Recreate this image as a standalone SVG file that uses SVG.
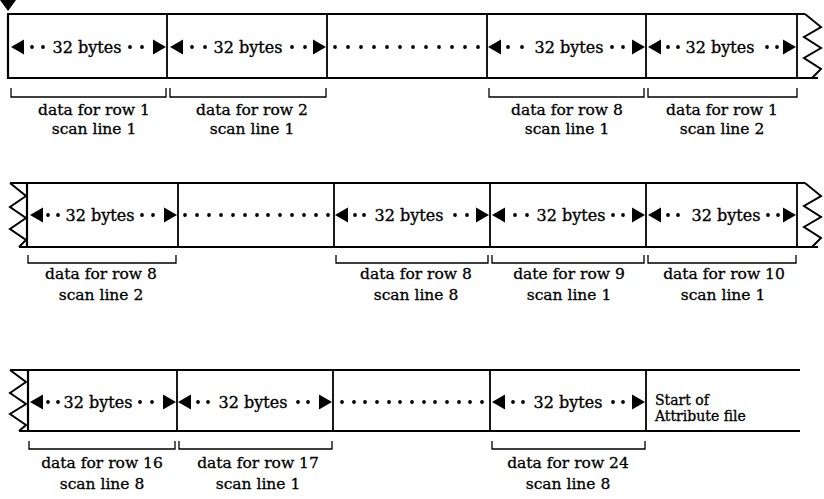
<svg xmlns="http://www.w3.org/2000/svg" xmlns:xlink="http://www.w3.org/1999/xlink" width="824" height="499" viewBox="0 0 824 499">
<defs>
<style>
.box{fill:none;stroke:#000;stroke-width:2.2}
.div{fill:none;stroke:#000;stroke-width:1.8}
.zz{fill:none;stroke:#000;stroke-width:2;stroke-linejoin:miter}
.br{fill:none;stroke:#000;stroke-width:1.3}
.t{font-family:"DejaVu Serif","Liberation Serif",serif;font-size:16px;fill:#000;stroke:#000;stroke-width:0.35}
.lb{font-family:"DejaVu Serif","Liberation Serif",serif;font-size:15.5px;fill:#000;stroke:#000;stroke-width:0.3;text-anchor:middle}
.m{text-anchor:middle}
.st{font-family:"DejaVu Serif","Liberation Serif",serif;font-size:14px;fill:#000;stroke:#000;stroke-width:0.3}
</style>
<circle id="d" r="1.9" fill="#000"/>
<polygon id="tl" points="0,0 13,-7.5 13,7.5" fill="#000"/>
<polygon id="tr" points="0,0 -13,-7.5 -13,7.5" fill="#000"/>
</defs>
<rect width="824" height="499" fill="#fff"/>

<!-- start marker -->
<polygon points="0,0 16,0 8,11" fill="#000"/>

<!-- ROW 1 -->
<g id="row1-frame">
<path class="box" d="M8,14 H805 M8,78 H818 M8,13 V79"/>
<path class="div" d="M167,14 V78 M327,14 V78 M487,14 V78 M646,14 V78 M797,14 V78"/>
<polyline class="zz" points="805,14 821,27 804,37 821,48 804,58 821,69 812,78"/>
</g>
<g id="r1c1">
<use xlink:href="#tl" x="11" y="47"/><use xlink:href="#d" x="32" y="47"/><use xlink:href="#d" x="43" y="47"/>
<text class="t m" x="87" y="53">32 bytes</text>
<use xlink:href="#d" x="130" y="47"/><use xlink:href="#d" x="142" y="47"/><use xlink:href="#tr" x="166" y="47"/>
</g>
<g id="r1c2">
<use xlink:href="#tl" x="170" y="47"/><use xlink:href="#d" x="192" y="47"/><use xlink:href="#d" x="205" y="47"/>
<text class="t m" x="248" y="53">32 bytes</text>
<use xlink:href="#d" x="292" y="47"/><use xlink:href="#d" x="305" y="47"/><use xlink:href="#tr" x="326" y="47"/>
</g>
<g id="r1c3">
<use xlink:href="#d" x="335" y="47"/><use xlink:href="#d" x="348" y="47"/><use xlink:href="#d" x="361" y="47"/><use xlink:href="#d" x="374" y="47"/><use xlink:href="#d" x="387" y="47"/><use xlink:href="#d" x="400" y="47"/><use xlink:href="#d" x="413" y="47"/><use xlink:href="#d" x="426" y="47"/><use xlink:href="#d" x="439" y="47"/><use xlink:href="#d" x="452" y="47"/><use xlink:href="#d" x="465" y="47"/><use xlink:href="#d" x="478" y="47"/>
</g>
<g id="r1c4">
<use xlink:href="#tl" x="488" y="47"/><use xlink:href="#d" x="508" y="47"/><use xlink:href="#d" x="522" y="47"/>
<text class="t m" x="569" y="53">32 bytes</text>
<use xlink:href="#d" x="612" y="47"/><use xlink:href="#d" x="623" y="47"/><use xlink:href="#tr" x="645" y="47"/>
</g>
<g id="r1c5">
<use xlink:href="#tl" x="648" y="47"/><use xlink:href="#d" x="668" y="47"/><use xlink:href="#d" x="678" y="47"/>
<text class="t m" x="720" y="53">32 bytes</text>
<use xlink:href="#d" x="767" y="47"/><use xlink:href="#d" x="777" y="47"/><use xlink:href="#tr" x="796" y="47"/>
</g>

<!-- ROW 2 -->
<g id="row2-frame">
<path class="box" d="M10,183 H805 M19,247 H818 M27,182 V248"/>
<path class="div" d="M178,183 V247 M334,183 V247 M490,183 V247 M646,183 V247 M797,183 V247"/>
<polyline class="zz" points="10,183 26,196 10,207 26,218 10,229 26,240 19,247"/>
<polyline class="zz" points="805,183 821,196 804,206 821,217 804,227 821,238 812,247"/>
</g>
<g id="r2c1">
<use xlink:href="#tl" x="30" y="215"/><use xlink:href="#d" x="48" y="215"/><use xlink:href="#d" x="58" y="215"/>
<text class="t m" x="100" y="221">32 bytes</text>
<use xlink:href="#d" x="142" y="215"/><use xlink:href="#d" x="153" y="215"/><use xlink:href="#tr" x="177" y="215"/>
</g>
<g id="r2c2">
<use xlink:href="#d" x="185" y="215"/><use xlink:href="#d" x="197" y="215"/><use xlink:href="#d" x="209" y="215"/><use xlink:href="#d" x="221" y="215"/><use xlink:href="#d" x="233" y="215"/><use xlink:href="#d" x="245" y="215"/><use xlink:href="#d" x="257" y="215"/><use xlink:href="#d" x="268" y="215"/><use xlink:href="#d" x="280" y="215"/><use xlink:href="#d" x="292" y="215"/><use xlink:href="#d" x="304" y="215"/><use xlink:href="#d" x="316" y="215"/><use xlink:href="#d" x="328" y="215"/>
</g>
<g id="r2c3">
<use xlink:href="#tl" x="335" y="215"/><use xlink:href="#d" x="355" y="215"/><use xlink:href="#d" x="364" y="215"/>
<text class="t m" x="409" y="221">32 bytes</text>
<use xlink:href="#d" x="455" y="215"/><use xlink:href="#d" x="467" y="215"/><use xlink:href="#tr" x="489" y="215"/>
</g>
<g id="r2c4">
<use xlink:href="#tl" x="492" y="215"/><use xlink:href="#d" x="515" y="215"/><use xlink:href="#d" x="527" y="215"/>
<text class="t m" x="571" y="221">32 bytes</text>
<use xlink:href="#d" x="613" y="215"/><use xlink:href="#d" x="623" y="215"/><use xlink:href="#tr" x="645" y="215"/>
</g>
<g id="r2c5">
<use xlink:href="#tl" x="648" y="215"/><use xlink:href="#d" x="668" y="215"/><use xlink:href="#d" x="678" y="215"/>
<text class="t m" x="726" y="221">32 bytes</text>
<use xlink:href="#d" x="768" y="215"/><use xlink:href="#d" x="778" y="215"/><use xlink:href="#tr" x="796" y="215"/>
</g>

<!-- ROW 3 -->
<g id="row3-frame">
<path class="box" d="M10,370 H800 M19,431 H800 M28,369 V432"/>
<path class="div" d="M177,370 V431 M333,370 V431 M490,370 V431 M646,370 V431"/>
<polyline class="zz" points="10,370 26,382 10,393 26,404 10,414 26,425 19,431"/>
</g>
<g id="r3c1">
<use xlink:href="#tl" x="30" y="402"/><use xlink:href="#d" x="48" y="402"/><use xlink:href="#d" x="58" y="402"/>
<text class="t m" x="98" y="408">32 bytes</text>
<use xlink:href="#d" x="140" y="402"/><use xlink:href="#d" x="152" y="402"/><use xlink:href="#tr" x="176" y="402"/>
</g>
<g id="r3c2">
<use xlink:href="#tl" x="178" y="402"/><use xlink:href="#d" x="198" y="402"/><use xlink:href="#d" x="208" y="402"/>
<text class="t m" x="253" y="408">32 bytes</text>
<use xlink:href="#d" x="298" y="402"/><use xlink:href="#d" x="308" y="402"/><use xlink:href="#tr" x="332" y="402"/>
</g>
<g id="r3c3">
<use xlink:href="#d" x="342" y="402"/><use xlink:href="#d" x="354" y="402"/><use xlink:href="#d" x="365" y="402"/><use xlink:href="#d" x="377" y="402"/><use xlink:href="#d" x="389" y="402"/><use xlink:href="#d" x="400" y="402"/><use xlink:href="#d" x="412" y="402"/><use xlink:href="#d" x="424" y="402"/><use xlink:href="#d" x="435" y="402"/><use xlink:href="#d" x="447" y="402"/><use xlink:href="#d" x="459" y="402"/><use xlink:href="#d" x="470" y="402"/><use xlink:href="#d" x="482" y="402"/>
</g>
<g id="r3c4">
<use xlink:href="#tl" x="492" y="402"/><use xlink:href="#d" x="513" y="402"/><use xlink:href="#d" x="523" y="402"/>
<text class="t m" x="568" y="408">32 bytes</text>
<use xlink:href="#d" x="613" y="402"/><use xlink:href="#d" x="623" y="402"/><use xlink:href="#tr" x="645" y="402"/>
</g>
<g id="r3c5">
<text class="st" x="655" y="405">Start of</text>
<text class="st" x="655" y="421">Attribute file</text>
</g>

<!-- brackets -->
<g id="brackets">
<path class="br" d="M11,88 V97 H166 V88 M170,88 V97 H326 V88 M489,88 V97 H644 V88 M648,88 V97 H797 V88"/>
<path class="br" d="M28,255 V263 H176 V255 M336,255 V263 H488 V255 M492,255 V263 H644 V255 M648,255 V263 H796 V255"/>
<path class="br" d="M29,441 V449 H175 V441 M179,441 V449 H332 V441 M492,441 V449 H645 V441"/>
</g>

<!-- labels -->
<g id="labels">
<text class="lb" x="94" y="115">data for row 1</text><text class="lb" x="94" y="134">scan line 1</text>
<text class="lb" x="252" y="115">data for row 2</text><text class="lb" x="252" y="134">scan line 1</text>
<text class="lb" x="567" y="115">data for row 8</text><text class="lb" x="567" y="134">scan line 1</text>
<text class="lb" x="722" y="115">data for row 1</text><text class="lb" x="722" y="134">scan line 2</text>
<text class="lb" x="101" y="279">data for row 8</text><text class="lb" x="101" y="300">scan line 2</text>
<text class="lb" x="416" y="279">data for row 8</text><text class="lb" x="416" y="300">scan line 8</text>
<text class="lb" x="569" y="279">date for row 9</text><text class="lb" x="569" y="300">scan line 1</text>
<text class="lb" x="724" y="279">data for row 10</text><text class="lb" x="723" y="300">scan line 1</text>
<text class="lb" x="102" y="468">data for row 16</text><text class="lb" x="102" y="489">scan line 8</text>
<text class="lb" x="258" y="468">data for row 17</text><text class="lb" x="258" y="489">scan line 1</text>
<text class="lb" x="568" y="468">data for row 24</text><text class="lb" x="568" y="489">scan line 8</text>
</g>
</svg>
